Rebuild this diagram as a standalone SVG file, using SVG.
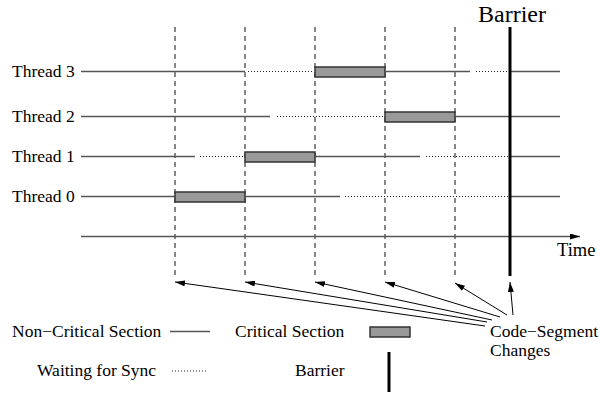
<svg xmlns="http://www.w3.org/2000/svg" width="600" height="395" viewBox="0 0 600 395">
<style>
text{font-family:"Liberation Serif","Times New Roman",serif;fill:#000}
.lbl{font-size:17.5px}
.solid{stroke:#555;stroke-width:1.6;fill:none}
.dot{stroke:#222;stroke-width:1;stroke-dasharray:1 2;fill:none}
.dash{stroke:#555;stroke-width:1.4;stroke-dasharray:5 4;fill:none}
.crit{fill:#999;stroke:#333;stroke-width:1.5}
.bar{stroke:#000;stroke-width:3}
.arr{stroke:#000;stroke-width:1;fill:none;marker-end:url(#ah)}
</style>
<defs>
<marker id="ah" markerUnits="userSpaceOnUse" markerWidth="10" markerHeight="6" refX="10" refY="3" orient="auto">
<path d="M0,0 L10,3 L0,6 z" fill="#000"/>
</marker>
<marker id="ta" markerUnits="userSpaceOnUse" markerWidth="10" markerHeight="6" refX="10" refY="3" orient="auto">
<path d="M0,0 L10,3 L0,6 z" fill="#000"/>
</marker>
</defs>
<rect width="600" height="395" fill="#fff"/>

<g id="phase-lines">
<line class="dash" x1="175" y1="27" x2="175" y2="278"/>
<line class="dash" x1="245" y1="27" x2="245" y2="278"/>
<line class="dash" x1="315" y1="27" x2="315" y2="278"/>
<line class="dash" x1="385" y1="27" x2="385" y2="278"/>
<line class="dash" x1="455" y1="27" x2="455" y2="278"/>
</g>

<g id="thread-3">
<text class="lbl" x="12" y="77">Thread 3</text>
<line class="solid" x1="81" y1="71.5" x2="245" y2="71.5"/>
<line class="dot" x1="248" y1="71.5" x2="313" y2="71.5"/>
<rect class="crit" x="315" y="67" width="70" height="10"/>
<line class="solid" x1="385" y1="71.5" x2="470" y2="71.5"/>
<line class="dot" x1="476" y1="71.5" x2="510" y2="71.5"/>
<line class="solid" x1="510" y1="71.5" x2="560" y2="71.5"/>
</g>

<g id="thread-2">
<text class="lbl" x="12" y="122">Thread 2</text>
<line class="solid" x1="81" y1="116.5" x2="270" y2="116.5"/>
<line class="dot" x1="277" y1="116.5" x2="384" y2="116.5"/>
<rect class="crit" x="385" y="112" width="70" height="10"/>
<line class="solid" x1="455" y1="116.5" x2="560" y2="116.5"/>
</g>

<g id="thread-1">
<text class="lbl" x="12" y="162">Thread 1</text>
<line class="solid" x1="81" y1="156.5" x2="195" y2="156.5"/>
<line class="dot" x1="200" y1="156.5" x2="244" y2="156.5"/>
<rect class="crit" x="245" y="152" width="70" height="10"/>
<line class="solid" x1="315" y1="156.5" x2="420" y2="156.5"/>
<line class="dot" x1="426" y1="156.5" x2="510" y2="156.5"/>
<line class="solid" x1="510" y1="156.5" x2="560" y2="156.5"/>
</g>

<g id="thread-0">
<text class="lbl" x="12" y="202">Thread 0</text>
<line class="solid" x1="81" y1="196.5" x2="175" y2="196.5"/>
<rect class="crit" x="175" y="192" width="70" height="10"/>
<line class="solid" x1="245" y1="196.5" x2="340" y2="196.5"/>
<line class="dot" x1="345" y1="196.5" x2="510" y2="196.5"/>
<line class="solid" x1="510" y1="196.5" x2="560" y2="196.5"/>
</g>

<g id="time-axis">
<line class="solid" x1="81" y1="236.5" x2="580" y2="236.5" marker-end="url(#ta)"/>
<text x="557" y="256" font-size="18.5px">Time</text>
</g>

<g id="barrier">
<line class="bar" x1="510" y1="27" x2="510" y2="276"/>
<text x="478" y="22" font-size="24px">Barrier</text>
</g>

<g id="code-segment-changes">
<text class="lbl" x="490" y="337">Code−Segment</text>
<text class="lbl" x="490" y="356">Changes</text>
</g>

<g id="connectors">
<line class="arr" x1="485" y1="326" x2="175" y2="282"/>
<line class="arr" x1="487" y1="322" x2="245" y2="282"/>
<line class="arr" x1="492" y1="320" x2="315" y2="282"/>
<line class="arr" x1="500" y1="317" x2="385" y2="282"/>
<line class="arr" x1="507" y1="315" x2="455" y2="283"/>
<line class="arr" x1="513" y1="315" x2="510" y2="282"/>
</g>

<g id="legend">
<text class="lbl" x="12" y="337">Non−Critical Section</text>
<line class="solid" x1="170" y1="331.5" x2="210" y2="331.5"/>
<text class="lbl" x="235" y="337">Critical Section</text>
<rect class="crit" x="370" y="327" width="40" height="10"/>
<text class="lbl" x="37" y="376">Waiting for Sync</text>
<line class="dot" x1="172" y1="371" x2="208" y2="371"/>
<text class="lbl" x="295" y="376">Barrier</text>
<line class="bar" x1="389" y1="352" x2="389" y2="392"/>
</g>
</svg>
